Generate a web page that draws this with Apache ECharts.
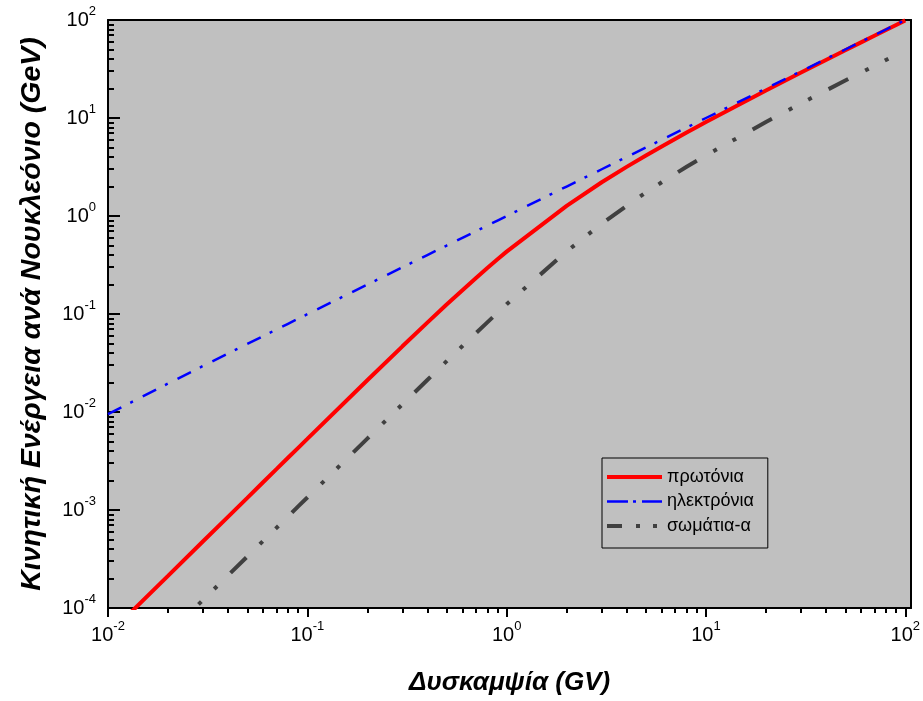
<!DOCTYPE html>
<html>
<head>
<meta charset="utf-8">
<script src="https://cdn.jsdelivr.net/npm/echarts@6/dist/echarts.min.js"></script>
<style>
  html, body { margin: 0; padding: 0; background: #fff; }
  #main { width: 923px; height: 701px; }
</style>
</head>
<body>
<div id="main"></div>
<script>
// Δυσκαμψία (GV)
var rigidity = [0.01, 0.02, 0.03, 0.04, 0.05, 0.06, 0.07, 0.08, 0.09,
  0.1, 0.2, 0.3, 0.4, 0.5, 0.6, 0.7, 0.8, 0.9,
  1, 2, 3, 4, 5, 6, 7, 8, 9,
  10, 20, 30, 40, 50, 60, 70, 80, 90, 100];

// κινητική ενέργεια ανά νουκλεόνιο (GeV)
var protons = [5.33e-5, 2.13e-4, 4.80e-4, 8.52e-4, 1.33e-3, 1.92e-3, 2.61e-3, 3.41e-3, 4.31e-3,
  5.31e-3, 0.0211, 0.0468, 0.0817, 0.125, 0.175, 0.232, 0.295, 0.362,
  0.433, 1.27, 2.21, 3.17, 4.15, 5.13, 6.12, 7.12, 8.11,
  9.11, 19.08, 29.08, 39.07, 49.07, 59.07, 69.07, 79.07, 89.07, 99.07];

var electrons = [0.0095, 0.0195, 0.0295, 0.0395, 0.0495, 0.0595, 0.0695, 0.0795, 0.0895,
  0.0995, 0.1995, 0.2995, 0.3995, 0.4995, 0.5995, 0.6995, 0.7995, 0.8995,
  0.9995, 1.9995, 2.9995, 3.9995, 4.9995, 5.9995, 6.9995, 7.9995, 8.9995,
  9.9995, 19.9995, 29.9995, 39.9995, 49.9995, 59.9995, 69.9995, 79.9995, 89.9995, 99.9995];

var alphas = [1.34e-5, 5.37e-5, 1.21e-4, 2.15e-4, 3.35e-4, 4.83e-4, 6.57e-4, 8.58e-4, 1.09e-3,
  1.34e-3, 5.35e-3, 0.0120, 0.0212, 0.0330, 0.0471, 0.0636, 0.0822, 0.103,
  0.126, 0.435, 0.834, 1.27, 1.74, 2.21, 2.69, 3.18, 3.66,
  4.15, 9.11, 14.10, 19.09, 24.09, 29.08, 34.08, 39.08, 44.08, 49.08];

var seriesNames = ['πρωτόνια', 'ηλεκτρόνια', 'σωμάτια-α'];

// εκθέτες των κύριων υποδιαιρέσεων
var xMajorExp = [-2, -1, 0, 1, 2];
var yMajorExp = [-4, -3, -2, -1, 0, 1, 2];

var xMin = 0.01, xMax = 107, yMin = 1e-4, yMax = 100;

// δευτερεύουσες υποδιαιρέσεις (2..9 σε κάθε δεκάδα), σε log10
function minorTicks(fromExp, toExp) {
  var out = [];
  for (var e = fromExp; e < toExp; e++) {
    for (var k = 2; k <= 9; k++) out.push(e + Math.log10(k));
  }
  return out;
}

var FONT = 'Arial, "Liberation Sans", sans-serif';

function pairs(ys) {
  return rigidity.map(function (r, i) { return [r, ys[i]]; });
}

function expLabel(v) {
  return '{b|10}{s|' + v + '}';
}
var labelRich = {
  b: { fontSize: 20, fontFamily: FONT, color: '#000' },
  s: { fontSize: 13, fontFamily: FONT, color: '#000', padding: [0, 0, 18, 0] }
};
var noLine = { show: false, onZero: false };

var myChart = echarts.init(document.getElementById('main'));

var option = {
  animation: false,
  backgroundColor: '#fff',
  grid: {
    left: 108, right: 11, top: 20, bottom: 92,
    show: true, backgroundColor: '#c0c0c0', borderWidth: 0
  },
  legend: {
    data: [
      { name: seriesNames[0], lineStyle: { width: 4 } },
      { name: seriesNames[1], lineStyle: { width: 2.5, type: [21, 5, 3, 6] } },
      { name: seriesNames[2], lineStyle: { width: 4, type: [15, 14, 4, 13, 4, 13] } }
    ],
    orient: 'vertical',
    left: 602, top: 458,
    padding: [10, 14, 13, 3],
    itemWidth: 55, itemHeight: 16, itemGap: 6.5,
    borderColor: '#000', borderWidth: 1,
    backgroundColor: '#c0c0c0',
    itemStyle: { color: 'transparent', borderWidth: 0, opacity: 0 },
    textStyle: { fontSize: 18, fontFamily: FONT, color: '#000', lineHeight: 18 }
  },
  xAxis: [
    // κλίμακα για τα δεδομένα
    { type: 'log', min: xMin, max: xMax, show: false },
    // κύριες υποδιαιρέσεις & ετικέτες
    {
      type: 'value', min: -2, max: Math.log10(xMax), position: 'bottom',
      name: 'Δυσκαμψία (GV)', nameLocation: 'middle', nameGap: 62,
      nameTextStyle: { fontSize: 26, fontWeight: 'bold', fontStyle: 'italic', fontFamily: FONT, color: '#000' },
      axisLine: { show: true, onZero: false, lineStyle: { color: '#000', width: 2 } },
      axisTick: { show: true, customValues: xMajorExp, length: 9, lineStyle: { color: '#000', width: 2 } },
      axisLabel: { customValues: xMajorExp, formatter: expLabel, rich: labelRich, margin: 12 },
      splitLine: { show: false }
    },
    {
      type: 'value', min: -2, max: Math.log10(xMax), position: 'bottom',
      axisLine: noLine,
      axisTick: { show: true, customValues: minorTicks(-2, 2), length: 5, lineStyle: { color: '#000', width: 2 } },
      axisLabel: { show: false },
      splitLine: { show: false }
    },
    {
      type: 'value', min: -2, max: Math.log10(xMax), position: 'top',
      axisLine: { show: true, onZero: false, lineStyle: { color: '#000', width: 2 } },
      axisTick: { show: false }, axisLabel: { show: false }, splitLine: { show: false }
    }
  ],
  yAxis: [
    { type: 'log', min: yMin, max: yMax, show: false },
    {
      type: 'value', min: -4, max: 2, position: 'left',
      name: 'Κινητική Ενέργεια ανά Νουκλεόνιο (GeV)', nameLocation: 'middle', nameGap: 61,
      nameTextStyle: { fontSize: 28.5, fontWeight: 'bold', fontStyle: 'italic', fontFamily: FONT, color: '#000' },
      axisLine: { show: true, onZero: false, lineStyle: { color: '#000', width: 2 } },
      axisTick: { show: true, inside: true, customValues: yMajorExp, length: 12, lineStyle: { color: '#000', width: 2 } },
      axisLabel: { customValues: yMajorExp, formatter: expLabel, rich: labelRich, margin: 12 },
      splitLine: { show: false }
    },
    {
      type: 'value', min: -4, max: 2, position: 'left',
      axisLine: noLine,
      axisTick: { show: true, inside: true, customValues: minorTicks(-4, 2), length: 6, lineStyle: { color: '#000', width: 2 } },
      axisLabel: { show: false },
      splitLine: { show: false }
    },
    {
      type: 'value', min: -4, max: 2, position: 'right',
      axisLine: { show: true, onZero: false, lineStyle: { color: '#000', width: 2 } },
      axisTick: { show: false }, axisLabel: { show: false }, splitLine: { show: false }
    }
  ],
  series: [
    {
      name: seriesNames[0], type: 'line', xAxisIndex: 0, yAxisIndex: 0,
      data: pairs(protons), symbol: 'none', clip: true,
      lineStyle: { color: '#ff0000', width: 4 },
      itemStyle: { color: '#ff0000' }
    },
    {
      name: seriesNames[1], type: 'line', xAxisIndex: 0, yAxisIndex: 0,
      data: pairs(electrons), symbol: 'none', clip: true,
      lineStyle: { color: '#0000ff', width: 2.5, type: [15, 10, 3, 11], cap: 'butt' },
      itemStyle: { color: '#0000ff' }
    },
    {
      name: seriesNames[2], type: 'line', xAxisIndex: 0, yAxisIndex: 0,
      data: pairs(alphas), symbol: 'none', clip: true,
      lineStyle: { color: '#404040', width: 4, type: [22, 19, 4, 18, 4, 19], cap: 'butt' },
      itemStyle: { color: '#404040' }
    }
  ]
};

myChart.setOption(option);
</script>
</body>
</html>
